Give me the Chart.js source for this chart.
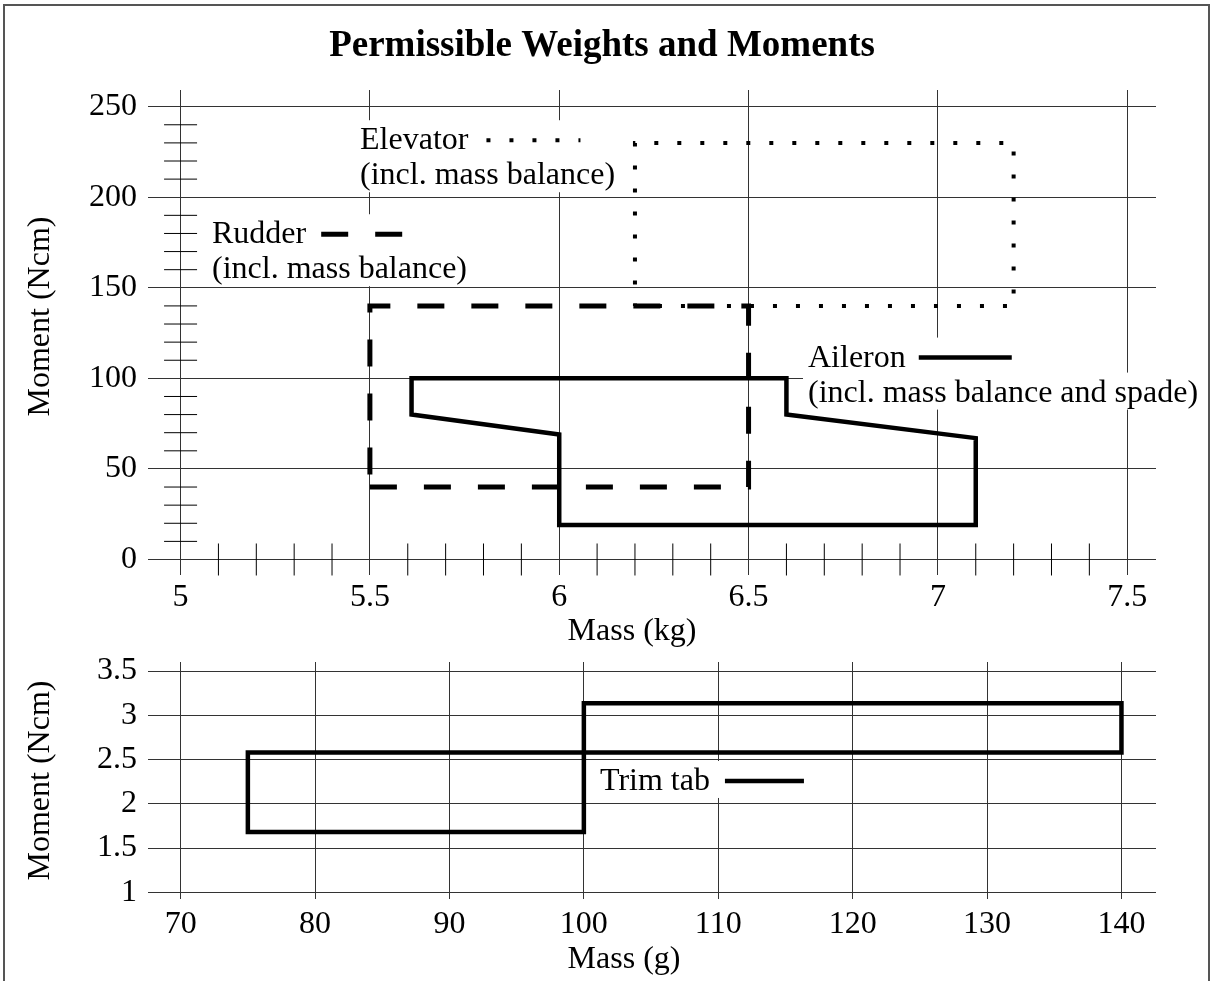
<!DOCTYPE html>
<html lang="en">
<head>
    <meta charset="UTF-8">
    <title>Permissible Weights and Moments</title>
    <script src="https://cdn.jsdelivr.net/npm/chart.js"></script>
    <style>
        * {
            margin: 0;
            padding: 0;
            box-sizing: border-box;
        }

        html, body {
            width: 1213px;
            height: 981px;
            overflow: hidden;
            background: #fff;
        }

        .frame {
            position: absolute;
            left: 3px;
            top: 4px;
            width: 1207px;
            height: 1000px;
            border: 2px solid #555;
        }

        .chart-box {
            position: absolute;
            left: 0;
            width: 1213px;
        }

        #mainBox {
            top: 0;
            height: 652px;
        }

        #trimBox {
            top: 652px;
            height: 329px;
        }
    </style>
</head>
<body>
    <div class="frame"></div>
    <div class="chart-box" id="mainBox"><canvas id="mainChart"></canvas></div>
    <div class="chart-box" id="trimBox"><canvas id="trimChart"></canvas></div>

    <script>
        // Upper chart: control surfaces (mass kg / moment Ncm)
        const aileronMass = [6.0, 7.1, 7.1, 6.6, 6.6, 5.61, 5.61, 6.0, 6.0];
        const aileronMoment = [19, 19, 67, 80, 100, 100, 80, 69, 19];
        const rudderMass = [5.5, 6.5, 6.5, 5.5, 5.5];
        const rudderMoment = [40, 40, 140, 140, 40];
        const elevatorMass = [6.2, 7.2, 7.2, 6.2, 6.2];
        const elevatorMoment = [140, 140, 230, 230, 140];

        const massTicksKg = [5, 5.5, 6, 6.5, 7, 7.5];
        const momentTicksNcm = [0, 50, 100, 150, 200, 250];
        const massMinorKg = [5.1, 5.2, 5.3, 5.4, 5.6, 5.7, 5.8, 5.9, 6.1, 6.2, 6.3, 6.4,
            6.6, 6.7, 6.8, 6.9, 7.1, 7.2, 7.3, 7.4];
        const momentMinorNcm = [10, 20, 30, 40, 60, 70, 80, 90, 110, 120, 130, 140,
            160, 170, 180, 190, 210, 220, 230, 240];

        // Lower chart: trim tab (mass g / moment Ncm)
        const trimMass = [75, 100, 100, 140, 140, 75, 75];
        const trimMoment = [1.68, 1.68, 3.135, 3.135, 2.58, 2.58, 1.68];
        const massTicksG = [70, 80, 90, 100, 110, 120, 130, 140];
        const momentTicksTrim = [1, 1.5, 2, 2.5, 3, 3.5];

        const serif = "'Liberation Serif', 'Times New Roman', serif";
        const tickFont = { family: serif, size: 32 };
        const titleFont = { family: serif, size: 32, lineHeight: 1 };

        const toPoints = (xs, ys) => xs.map((x, i) => ({ x: x, y: ys[i] }));

        // white boxed labels with a line sample, drawn over the grid
        const boxedLabels = {
            id: 'boxedLabels',
            beforeDatasetsDraw(chart, args, opts) {
                const { ctx } = chart;
                const xs = chart.scales.x, ys = chart.scales.y;
                ctx.save();
                ctx.font = '32px ' + serif;
                ctx.textBaseline = 'alphabetic';
                opts.items.forEach(item => {
                    const left = xs.getPixelForValue(item.x);
                    const base = ys.getPixelForValue(item.y);
                    item.lines.forEach((line, i) => {
                        const by = base + i * 35;
                        const w = ctx.measureText(line).width;
                        let right = left + w;
                        if (i === 0) right += item.gap + item.len;
                        ctx.fillStyle = '#fff';
                        ctx.fillRect(left - 5, by - 29, right - left + 9, 37);
                        ctx.fillStyle = '#000';
                        ctx.fillText(line, left, by);
                        if (i === 0) {
                            const sy = by - 9;
                            ctx.beginPath();
                            ctx.setLineDash(item.dash);
                            ctx.lineWidth = item.width;
                            ctx.lineCap = 'butt';
                            ctx.strokeStyle = '#000';
                            ctx.moveTo(left + w + item.gap, sy);
                            ctx.lineTo(left + w + item.gap + item.len, sy);
                            ctx.stroke();
                            ctx.setLineDash([]);
                        }
                    });
                });
                ctx.restore();
            }
        };

        const outline = (points, width, dash, cap) => ({
            data: points,
            showLine: true,
            borderColor: '#000',
            borderWidth: width,
            borderDash: dash,
            borderCapStyle: cap,
            borderJoinStyle: 'miter',
            pointRadius: 0,
            tension: 0,
            fill: false,
            clip: false
        });

        const minorTicks = (points, rotation, radius) => ({
            data: points,
            showLine: false,
            pointStyle: 'line',
            pointRotation: rotation,
            pointRadius: radius,
            pointBorderColor: '#000',
            pointBorderWidth: 1,
            clip: false
        });

        const gridStyle = { color: '#333', lineWidth: 1, drawTicks: false };

        // fixed axis sizes so the plot areas sit where the original has them
        const fixY = width => s => {
            s.width = width;
            s.paddingTop = 0;
            s.paddingBottom = 0;
        };
        const fixX = height => s => {
            s.height = height;
            s.paddingLeft = 0;
            s.paddingRight = 0;
        };

        new Chart(document.getElementById('mainChart'), {
            type: 'scatter',
            data: {
                datasets: [
                    outline(toPoints(aileronMass, aileronMoment), 4.5, [], 'square'),
                    outline(toPoints(rudderMass, rudderMoment), 5, [27, 27], 'butt'),
                    outline(toPoints(elevatorMass, elevatorMoment), 4, [4, 19], 'butt'),
                    minorTicks(massMinorKg.map(v => ({ x: v, y: 0 })), 90, 16),
                    minorTicks(momentMinorNcm.map(v => ({ x: 5, y: v })), 0, 16.5)
                ]
            },
            options: {
                responsive: true,
                maintainAspectRatio: false,
                animation: false,
                events: [],
                layout: { padding: { left: 48, right: 57, top: 0, bottom: 0 } },
                scales: {
                    x: {
                        type: 'linear',
                        min: 4.914,
                        max: 7.576,
                        afterBuildTicks: s => { s.ticks = massTicksKg.map(v => ({ value: v })); },
                        afterFit: fixX(77),
                        grid: gridStyle,
                        border: { display: false },
                        ticks: { color: '#000', font: tickFont, padding: 3, maxRotation: 0, autoSkip: false, callback: v => String(v) },
                        title: { display: true, text: 'Mass (kg)     ', color: '#000', font: titleFont, padding: { top: 0, bottom: 4 } }
                    },
                    y: {
                        type: 'linear',
                        min: -8.56,
                        max: 259.2,
                        afterBuildTicks: s => { s.ticks = momentTicksNcm.map(v => ({ value: v })); },
                        afterFit: fixY(100),
                        grid: gridStyle,
                        border: { display: false },
                        ticks: { color: '#000', font: tickFont, padding: 11, autoSkip: false, callback: v => String(v) },
                        title: { display: true, text: '    Moment (Ncm)', color: '#000', font: titleFont, padding: { top: -23, bottom: 0 } }
                    }
                },
                plugins: {
                    legend: { display: false },
                    tooltip: { enabled: false },
                    title: {
                        display: true,
                        text: 'Permissible Weights and Moments',
                        color: '#000',
                        font: { family: serif, size: 37, weight: 'bold', lineHeight: 1.2 },
                        padding: { top: 24, bottom: 21.6 }
                    },
                    boxedLabels: {
                        items: [
                            { x: 5.474, y: 226.5, lines: ['Elevator', '(incl. mass balance)'], gap: 18, len: 94, dash: [4, 19], width: 4 },
                            { x: 5.083, y: 174.6, lines: ['Rudder', '(incl. mass balance)'], gap: 15, len: 81, dash: [27, 27], width: 5 },
                            { x: 6.657, y: 106.5, lines: ['Aileron', '(incl. mass balance and spade)'], gap: 13, len: 93, dash: [], width: 4.5 }
                        ]
                    }
                }
            },
            plugins: [boxedLabels]
        });

        new Chart(document.getElementById('trimChart'), {
            type: 'scatter',
            data: {
                datasets: [
                    outline(toPoints(trimMass, trimMoment), 4.5, [], 'square')
                ]
            },
            options: {
                responsive: true,
                maintainAspectRatio: false,
                animation: false,
                events: [],
                layout: { padding: { left: 0, right: 57, top: 10, bottom: 0 } },
                scales: {
                    x: {
                        type: 'linear',
                        min: 67.57,
                        max: 142.57,
                        afterBuildTicks: s => { s.ticks = massTicksG.map(v => ({ value: v })); },
                        afterFit: fixX(82),
                        grid: gridStyle,
                        border: { display: false },
                        ticks: { color: '#000', font: tickFont, padding: 6, maxRotation: 0, autoSkip: false, callback: v => String(v) },
                        title: { display: true, text: 'Mass (g)       ', color: '#000', font: titleFont, padding: { top: 0, bottom: 5 } }
                    },
                    y: {
                        type: 'linear',
                        min: 0.924,
                        max: 3.602,
                        afterBuildTicks: s => { s.ticks = momentTicksTrim.map(v => ({ value: v })); },
                        afterFit: fixY(148),
                        grid: gridStyle,
                        border: { display: false },
                        ticks: { color: '#000', font: tickFont, padding: 11, autoSkip: false, callback: v => String(v) },
                        title: { display: true, text: 'Moment (Ncm)', color: '#000', font: titleFont, padding: { top: 25, bottom: 0 } }
                    }
                },
                plugins: {
                    legend: { display: false },
                    tooltip: { enabled: false },
                    boxedLabels: {
                        items: [
                            { x: 101.2, y: 2.156, lines: ['Trim tab'], gap: 15, len: 79, dash: [], width: 4.5 }
                        ]
                    }
                }
            },
            plugins: [boxedLabels]
        });
    </script>
</body>
</html>
